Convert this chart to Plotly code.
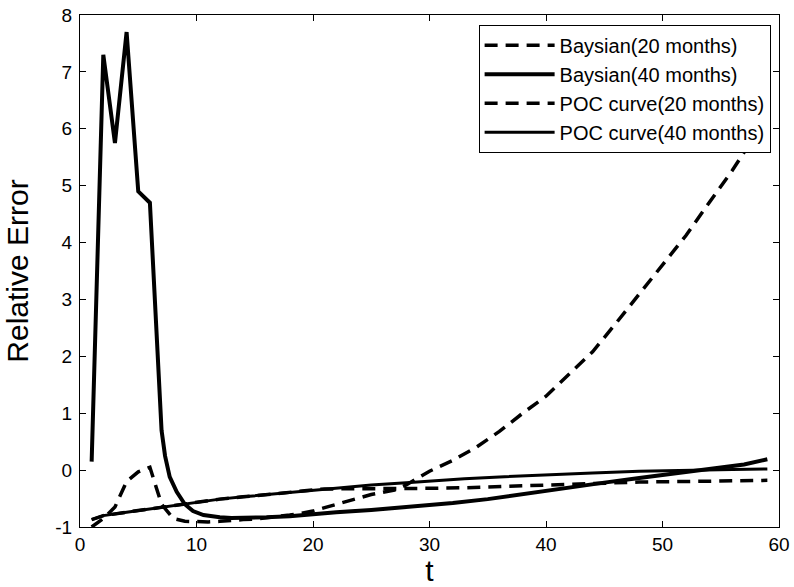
import plotly.graph_objects as go

# ---- data ----
t_bayes20 = [1, 2, 3, 4, 5, 6, 7, 8, 9, 10, 11, 12, 13, 14, 15, 16, 17, 18, 19, 20,
             21, 22, 23, 24, 25, 26, 27, 28, 29, 30, 32, 34, 36, 38, 40, 42, 44, 46,
             48, 50, 52, 54, 56, 58, 59]
bayes20 = [-1.0, -0.85, -0.65, -0.2, -0.03, 0.05, -0.6, -0.85, -0.9, -0.91, -0.91, -0.9,
           -0.88, -0.87, -0.86, -0.84, -0.82, -0.79, -0.76, -0.72, -0.66, -0.6, -0.54,
           -0.48, -0.43, -0.39, -0.35, -0.26, -0.14, -0.02, 0.17, 0.4, 0.68, 1.0, 1.3,
           1.68, 2.08, 2.58, 3.1, 3.6, 4.12, 4.7, 5.27, 5.9, 6.15]

t_bayes40 = [1, 2, 3, 4, 5, 6, 7, 7.3, 7.7, 8.3, 9, 9.7, 10.6, 12, 13, 14, 15, 16, 18,
             20, 22, 25, 28, 30, 32, 35, 38, 40, 42, 45, 48, 50, 52, 55, 57, 59]
bayes40 = [0.15, 7.3, 5.75, 7.7, 4.9, 4.7, 0.7, 0.25, -0.12, -0.38, -0.6, -0.72, -0.79,
           -0.83, -0.84, -0.84, -0.84, -0.83, -0.81, -0.77, -0.74, -0.7, -0.65, -0.62,
           -0.58, -0.51, -0.42, -0.36, -0.3, -0.22, -0.14, -0.09, -0.04, 0.04, 0.1, 0.19]

t_poc20 = [1, 2, 4, 6, 8, 10, 12, 14, 16, 18, 20, 21, 22, 24, 26, 28, 30, 33, 36, 40,
           44, 48, 52, 56, 59]
poc20 = [-0.87, -0.8, -0.74, -0.68, -0.62, -0.56, -0.51, -0.47, -0.43, -0.39, -0.35,
         -0.33, -0.33, -0.33, -0.33, -0.32, -0.32, -0.31, -0.29, -0.26, -0.24, -0.21,
         -0.2, -0.19, -0.18]

t_poc40 = [1, 2, 4, 6, 8, 10, 12, 14, 16, 18, 20, 22, 25, 28, 30, 33, 36, 40, 44, 48,
           52, 56, 59]
poc40 = [-0.87, -0.8, -0.74, -0.68, -0.62, -0.56, -0.51, -0.47, -0.43, -0.39, -0.35,
         -0.31, -0.26, -0.22, -0.19, -0.15, -0.12, -0.08, -0.05, -0.02, 0.0, 0.01, 0.02]

names = ["Baysian(20 months)", "Baysian(40 months)",
         "POC curve(20 months)", "POC curve(40 months)"]

x_ticks = [0, 10, 20, 30, 40, 50, 60]
y_ticks = [-1, 0, 1, 2, 3, 4, 5, 6, 7, 8]

FONT = "Liberation Sans, Arial, Helvetica, sans-serif"

fig = go.Figure()
fig.add_trace(go.Scatter(x=t_bayes20, y=bayes20, mode="lines", name=names[0],
                         line=dict(color="black", width=3.5, dash="13px,8px")))
fig.add_trace(go.Scatter(x=t_bayes40, y=bayes40, mode="lines", name=names[1],
                         line=dict(color="black", width=4)))
fig.add_trace(go.Scatter(x=t_poc20, y=poc20, mode="lines", name=names[2],
                         line=dict(color="black", width=3.5, dash="13px,8px")))
fig.add_trace(go.Scatter(x=t_poc40, y=poc40, mode="lines", name=names[3],
                         line=dict(color="black", width=3)))

axis_common = dict(
    showgrid=False, zeroline=False, showline=True, linecolor="black", linewidth=1,
    mirror="ticks", ticks="inside", ticklen=6, tickcolor="black", tickwidth=1,
    tickfont=dict(family=FONT, size=19, color="black"), automargin=False,
)

fig.update_xaxes(range=[0, 60], tickvals=x_ticks, ticktext=[str(v) for v in x_ticks],
                 title=dict(text="t", font=dict(family=FONT, size=30, color="black"),
                            standoff=0),
                 **axis_common)
fig.update_yaxes(range=[-1, 8], tickvals=y_ticks, ticktext=[str(v) for v in y_ticks],
                 ticklabelstandoff=3,
                 title=dict(text="Relative Error", font=dict(family=FONT, size=30, color="black"),
                            standoff=17),
                 **axis_common)

fig.update_layout(
    width=794, height=587,
    margin=dict(l=80, r=15, t=15, b=60),
    paper_bgcolor="white", plot_bgcolor="white",
    showlegend=True,
    legend=dict(x=0.988, xanchor="right", y=0.981, yanchor="top",
                bgcolor="white", bordercolor="black", borderwidth=1,
                font=dict(family=FONT, size=20, color="black"),
                itemwidth=70, tracegroupgap=0),
    font=dict(family=FONT, color="black"),
)

# remove the default 8px page margin so the figure fills the 794x587 window exactly
fig.write_html("out.html",
               config={"displayModeBar": False},
               post_script="document.body.style.margin='0';"
                           "document.body.style.overflow='hidden';")
